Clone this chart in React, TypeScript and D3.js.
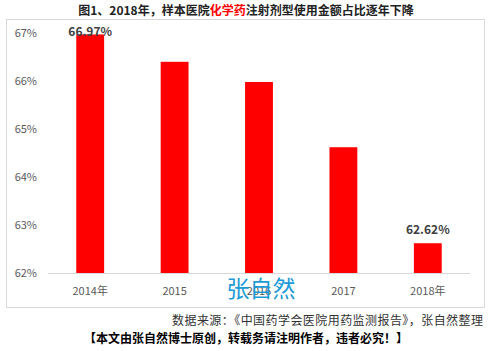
import React from "react";
import * as d3 from "d3";

const categories = ["2014年", "2015", "2016", "2017", "2018年"];
const values = [66.97, 66.4, 65.98, 64.62, 62.62];
const labels = ["66.97%", "", "", "", "62.62%"];
const yTicks = [62, 63, 64, 65, 66, 67];

const W = 492, H = 351;
const font = "'Microsoft YaHei','Noto Sans CJK SC','Noto Sans',sans-serif";

export default function App() {
  const x = d3.scaleBand().domain(categories).range([48, 470]).paddingInner(0.67).paddingOuter(0.335);
  const y = d3.scaleLinear().domain([62, 67]).range([273, 33]);
  return (
    <svg width={W} height={H} style={{ position: "absolute", left: 0, top: 0 }} fontFamily={font}>
      <rect x={0} y={0} width={W} height={H} fill="#fff" />
      <text x={246} y={15} textAnchor="middle" fontSize={12} fontWeight="bold" fill="#222">
        图1、2018年，样本医院<tspan fill="#ff0000">化学药</tspan>注射剂型使用金额占比逐年下降
      </text>
      <rect x={6.5} y={19.5} width={478} height={288} fill="#fff" stroke="#d9d9d9" />
      {yTicks.map((t) => (
        <text key={t} x={37} y={y(t) + 4} textAnchor="end" fontSize={11} fill="#595959">{t}%</text>
      ))}
      {categories.map((c, i) => (
        <rect key={c} x={x(c)} y={y(values[i])} width={x.bandwidth()} height={273 - y(values[i])} fill="#ff0000" />
      ))}
      <line x1={48} x2={470} y1={273.5} y2={273.5} stroke="#d9d9d9" />
      {categories.map((c, i) => (
        <text key={c} x={x(c)! + x.bandwidth() / 2} y={295} textAnchor="middle" fontSize={11} fill="#595959">{c}</text>
      ))}
      {categories.map((c, i) =>
        labels[i] ? (
          <text key={c} x={x(c)! + x.bandwidth() / 2} y={y(values[i]) + (i === 0 ? 2 : -9)} textAnchor="middle" fontSize={12} fontWeight="bold" fill="#404040">{labels[i]}</text>
        ) : null
      )}
      <text x={261} y={297} textAnchor="middle" fontSize={23} fill="#1e9ad6">张自然</text>
      <text x={172} y={325} textLength={311} lengthAdjust="spacing" fontSize={12} fill="#333">数据来源：《中国药学会医院用药监测报告》，张自然整理</text>
      <text x={246} y={343} textAnchor="middle" fontSize={12} fontWeight="bold" fill="#000">【本文由张自然博士原创，转载务请注明作者，违者必究！】</text>
    </svg>
  );
}
